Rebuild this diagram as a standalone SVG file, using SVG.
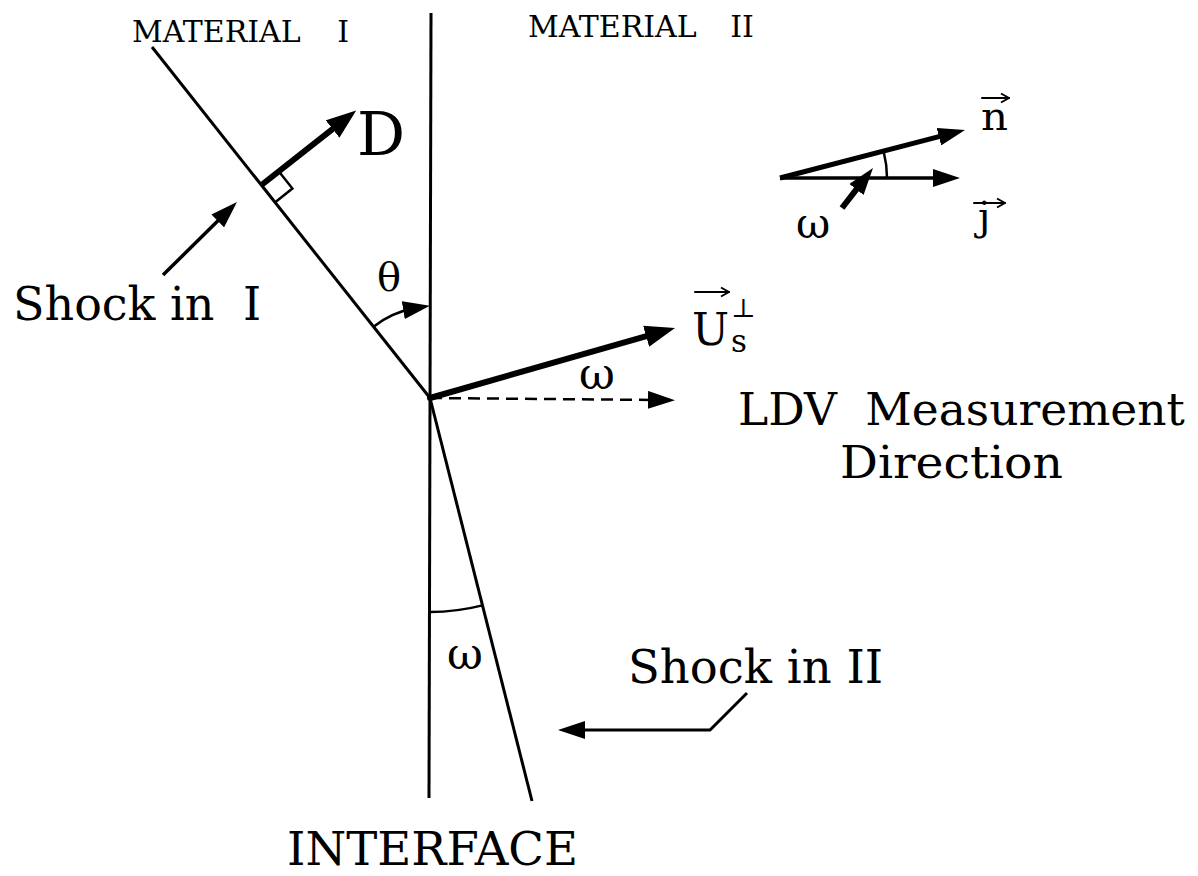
<svg xmlns="http://www.w3.org/2000/svg" width="1198" height="876" viewBox="0 0 1198 876">
<style>
.ln{fill:none;stroke:#000;stroke-width:3;stroke-linecap:butt}
.thick{fill:none;stroke:#000;stroke-width:6}
.vec{fill:none;stroke:#000;stroke-width:2;stroke-linecap:round;stroke-linejoin:round}
.t{font-family:"DejaVu Serif","Liberation Serif",serif;fill:#000}
</style>
<defs>
<marker id="big" markerUnits="userSpaceOnUse" markerWidth="30" markerHeight="22" refX="14" refY="11" orient="auto"><path d="M0,0 L30,11 L0,22 z" fill="#000"/></marker>
<marker id="med" markerUnits="userSpaceOnUse" markerWidth="27" markerHeight="18" refX="12" refY="9" orient="auto"><path d="M0,0 L27,9 L0,18 z" fill="#000"/></marker>
<marker id="vhead" markerUnits="userSpaceOnUse" markerWidth="12" markerHeight="12" refX="9" refY="6" orient="auto"><path d="M1,1.5 L9,6 L1,10.5" fill="none" stroke="#000" stroke-width="2" stroke-linejoin="round"/></marker>
</defs>
<rect width="1198" height="876" fill="#fff"/>
<g id="connectors">
<line id="interface-line" class="ln" x1="431" y1="13" x2="429" y2="798"/>
<line id="shock-I-line" class="ln" x1="152" y1="47" x2="430" y2="398"/>
<line id="shock-II-line" class="ln" x1="430" y1="398" x2="532" y2="801"/>
<path id="right-angle" class="ln" style="stroke-width:2.5" d="M275.2,202.2 L292.4,188.5 L278.7,171.3"/>
<line id="D-arrow" class="thick" x1="261.5" y1="185" x2="343.6" y2="120.4" marker-end="url(#big)"/>
<line id="shock-I-pointer" class="ln" style="stroke-width:3.5" x1="163" y1="275" x2="226.3" y2="212.5" marker-end="url(#med)"/>
<path id="theta-arc" class="ln" style="stroke-width:2.5" d="M373.5,326.7 A91,91 0 0,1 415.1,308.2" marker-end="url(#med)"/>
<line id="Us-arrow" class="thick" x1="430" y1="398" x2="659.6" y2="332.4" marker-end="url(#big)"/>
<line id="LDV-arrow" class="ln" style="stroke-width:2.5;stroke-dasharray:12,7" x1="430" y1="398" x2="660" y2="400" marker-end="url(#med)"/>
<circle cx="430" cy="398" r="3" fill="#000"/>
<path id="omega-arc" class="ln" style="stroke-width:2.5" d="M430,612 A214,214 0 0,0 482.5,605.4"/>
<path id="shock-II-pointer" class="ln" d="M747,693 L710,730 L573,730" marker-end="url(#med)"/>
<line id="n-arrow" class="ln" style="stroke-width:5" x1="780" y1="178" x2="950.5" y2="133.7" marker-end="url(#med)"/>
<line id="j-arrow" class="ln" style="stroke-width:3.5" x1="780" y1="178" x2="945" y2="178" marker-end="url(#med)"/>
<path id="nj-arc" class="ln" style="stroke-width:2.5" d="M887,178 A107,107 0 0,0 883.7,151.7"/>
<line id="omega-pointer" class="thick" x1="842" y1="208" x2="863.8" y2="179.9" marker-end="url(#med)"/>
</g>
<g id="label-material-I"><text class="t" x="132" y="42" font-size="30">MATERIAL<tspan dx="27"> I</tspan></text></g>
<g id="label-material-II"><text class="t" x="528" y="37" font-size="30">MATERIAL<tspan dx="24"> II</tspan></text></g>
<g id="label-D"><text class="t" x="357" y="155" font-size="60">D</text></g>
<g id="label-shock-I"><text class="t" x="13" y="320" font-size="46">Shock in<tspan dx="14"> I</tspan></text></g>
<g id="label-theta"><text class="t" x="377" y="291" font-size="40">θ</text></g>
<g id="label-omega-mid"><text class="t" x="579" y="389" font-size="44">ω</text></g>
<g id="label-Us">
<line class="vec" x1="695" y1="292" x2="729" y2="292" marker-end="url(#vhead)"/>
<text class="t" x="692" y="345" font-size="44">U</text>
<text class="t" x="731" y="317" font-size="26">⊥</text>
<text class="t" x="731" y="352" font-size="31">s</text>
</g>
<g id="label-LDV">
<text class="t" x="738" y="425" font-size="45.5">LDV<tspan dx="14"> Measurement</tspan></text>
<text class="t" x="840" y="478" font-size="45.5" textLength="223" lengthAdjust="spacingAndGlyphs">Direction</text>
</g>
<g id="label-omega-bottom"><text class="t" x="447" y="669" font-size="44">ω</text></g>
<g id="label-shock-II"><text class="t" x="628" y="683" font-size="46.5">Shock in II</text></g>
<g id="label-interface"><text class="t" x="287" y="865" font-size="47" textLength="291" lengthAdjust="spacingAndGlyphs">INTERFACE</text></g>
<g id="label-omega-top"><text class="t" x="796" y="238" font-size="42">ω</text></g>
<g id="label-n">
<line class="vec" x1="982" y1="98" x2="1009" y2="98" marker-end="url(#vhead)"/>
<text class="t" x="981" y="130" font-size="40" textLength="27" lengthAdjust="spacingAndGlyphs">n</text>
</g>
<g id="label-j">
<line class="vec" x1="974" y1="203" x2="1005" y2="203" marker-end="url(#vhead)"/>
<text class="t" x="978" y="230" font-size="40">j</text>
</g>
</svg>
